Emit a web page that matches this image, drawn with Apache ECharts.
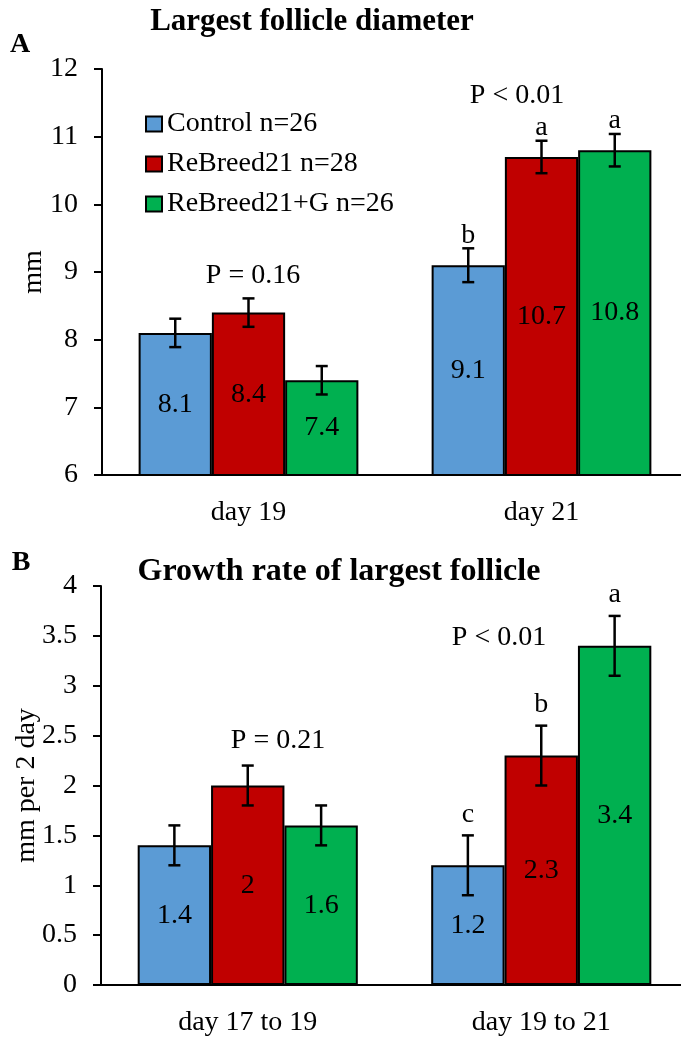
<!DOCTYPE html>
<html><head><meta charset="utf-8">
<script src="https://cdn.jsdelivr.net/npm/echarts@6/dist/echarts.min.js"></script>
<style>html,body{margin:0;padding:0;background:#fff;}#c{width:681px;height:1046px;}</style>
</head><body><div id="c"></div>
<script>
const seriesNames = ['Control n=26', 'ReBreed21 n=28', 'ReBreed21+G n=26'];
const colors = ['#5B9BD5', '#C00000', '#00B050'];

const categoriesA = ['day 19', 'day 21'];
const controlA = [8.1, 9.1];
const rebreedA = [8.4, 10.7];
const rebreedGA = [7.4, 10.8];
const errControlA = [0.21, 0.25];
const errRebreedA = [0.21, 0.24];
const errRebreedGA = [0.21, 0.24];
const lettersControlA = ['', 'b'];
const lettersRebreedA = ['', 'a'];
const lettersRebreedGA = ['', 'a'];

const categoriesB = ['day 17 to 19', 'day 19 to 21'];
const controlB = [1.4, 1.2];
const rebreedB = [2.0, 2.3];
const rebreedGB = [1.6, 3.4];
const errControlB = [0.2, 0.3];
const errRebreedB = [0.2, 0.3];
const errRebreedGB = [0.2, 0.3];
const lettersControlB = ['', 'c'];
const lettersRebreedB = ['', 'b'];
const lettersRebreedGB = ['', 'a'];

const yTicksA = {min: 6, max: 12, interval: 1};
const yTicksB = {min: 0, max: 4, interval: 0.5};

const FONT = '"Liberation Serif", "Times New Roman", serif';
const FS = 28;

function errData(vals, errs) {
  const out = [];
  vals.forEach((v, si) => {
    v.forEach((y, ci) => out.push([ci, y, errs[si][ci], si]));
  });
  return out;
}
function letterList(letters) {
  const out = [];
  letters.forEach(l => l.forEach(s => out.push(s)));
  return out;
}

function makeErrRender(letterGap, letters) {
  return function (params, api) {
    const ci = api.value(0), y = api.value(1), e = api.value(2), si = api.value(3);
    const letter = letters[params.dataIndex];
    const band = api.size([1, 0])[0];
    const off = (si - 1) * band * 0.25;
    const top = api.coord([ci, y + e]);
    const bot = api.coord([ci, y - e]);
    const x = top[0] + off;
    const cap = 6;
    const style = {stroke: '#000', lineWidth: 2.5};
    const children = [
      {type: 'line', shape: {x1: x, y1: top[1], x2: x, y2: bot[1]}, style},
      {type: 'line', shape: {x1: x - cap, y1: top[1], x2: x + cap, y2: top[1]}, style},
      {type: 'line', shape: {x1: x - cap, y1: bot[1], x2: x + cap, y2: bot[1]}, style}
    ];
    if (letter) {
      children.push({type: 'text', style: {text: letter, x: x, y: top[1] - letterGap,
        textAlign: 'center', textVerticalAlign: 'bottom', font: FS + 'px ' + FONT, fill: '#000'}});
    }
    return {type: 'group', children};
  };
}

function barSeries(name, data, color, gi) {
  return {
    type: 'bar', name, data, xAxisIndex: gi, yAxisIndex: gi,
    barGap: '0%', barCategoryGap: '25%',
    itemStyle: {color, borderColor: '#000', borderWidth: 2},
    label: {show: true, position: 'inside', color: '#000', fontSize: FS, fontFamily: FONT},
    z: 2
  };
}

const axisLine = {show: true, lineStyle: {color: '#000', width: 2}};

function xAxis(cats, gi) {
  return {type: 'category', data: cats, gridIndex: gi,
    axisLine, axisTick: {show: false},
    axisLabel: {color: '#000', fontSize: FS, fontFamily: FONT, margin: 24}};
}
function yAxis(t, gi, name, gap) {
  return {type: 'value', gridIndex: gi, min: t.min, max: t.max, interval: t.interval,
    name, nameLocation: 'middle', nameGap: gap, nameRotate: 90, nameMoveOverlap: false,
    nameTextStyle: {color: '#000', fontSize: FS, fontFamily: FONT},
    axisLine, splitLine: {show: false},
    axisTick: {show: true, length: 8, lineStyle: {color: '#000', width: 2}},
    axisLabel: {color: '#000', fontSize: FS, fontFamily: FONT, margin: 24}};
}

function txt(text, x, y, size, bold) {
  return {type: 'text', x, y, style: {text, font: (bold ? 'bold ' : '') + size + 'px ' + FONT,
    fill: '#000', textAlign: 'center', textVerticalAlign: 'middle'}};
}

const chart = echarts.init(document.getElementById('c'), null, {renderer: 'canvas'});
chart.setOption({
  animation: false,
  backgroundColor: '#fff',
  grid: [
    {left: 102, top: 69, width: 586, height: 406, outerBoundsMode: 'none', containLabel: false},
    {left: 101, top: 586, width: 587, height: 399, outerBoundsMode: 'none', containLabel: false}
  ],
  legend: {
    data: seriesNames, orient: 'vertical', left: 145, top: 110, padding: 0,
    icon: 'rect', itemWidth: 16, itemHeight: 15, itemGap: 12,
    textStyle: {color: '#000', fontSize: FS, fontFamily: FONT},
    itemStyle: {borderColor: '#000', borderWidth: 2}
  },
  xAxis: [xAxis(categoriesA, 0), xAxis(categoriesB, 1)],
  yAxis: [yAxis(yTicksA, 0, 'mm', 54), yAxis(yTicksB, 1, 'mm per 2 day', 60)],
  series: [
    barSeries(seriesNames[0], controlA, colors[0], 0),
    barSeries(seriesNames[1], rebreedA, colors[1], 0),
    barSeries(seriesNames[2], rebreedGA, colors[2], 0),
    barSeries(seriesNames[0], controlB, colors[0], 1),
    barSeries(seriesNames[1], rebreedB, colors[1], 1),
    barSeries(seriesNames[2], rebreedGB, colors[2], 1),
    {type: 'custom', xAxisIndex: 0, yAxisIndex: 0, z: 5,
      renderItem: makeErrRender(-1, letterList([lettersControlA, lettersRebreedA, lettersRebreedGA])),
      data: errData([controlA, rebreedA, rebreedGA], [errControlA, errRebreedA, errRebreedGA])},
    {type: 'custom', xAxisIndex: 1, yAxisIndex: 1, z: 5,
      renderItem: makeErrRender(7, letterList([lettersControlB, lettersRebreedB, lettersRebreedGB])),
      data: errData([controlB, rebreedB, rebreedGB], [errControlB, errRebreedB, errRebreedGB])}
  ],
  graphic: [
    txt('Largest follicle diameter', 312, 22, 31, true),
    txt('A', 20, 45, 28, true),
    txt('P < 0.01', 517, 96, FS, false),
    txt('P = 0.16', 253, 276, FS, false),
    txt('Growth rate of largest follicle', 339, 572, 32, true),
    txt('B', 21, 563, 28, true),
    txt('P < 0.01', 499, 638, FS, false),
    txt('P = 0.21', 278, 741, FS, false)
  ]
});
</script></body></html>
